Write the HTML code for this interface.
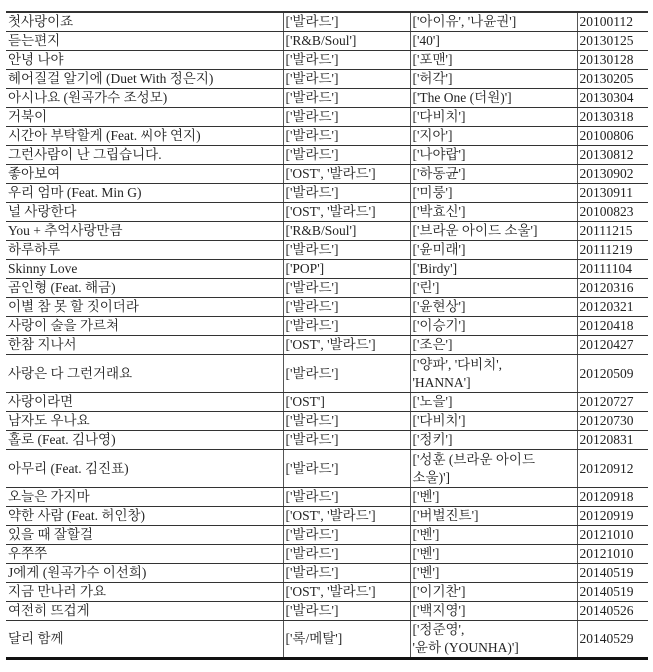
<!DOCTYPE html>
<html><head><meta charset="utf-8"><style>
html,body{margin:0;padding:0;background:#fff;width:653px;height:672px;overflow:hidden}
table{position:absolute;left:6px;top:11px;width:642px;border-collapse:collapse;font-family:"Liberation Serif","Noto Serif CJK KR","Noto Serif CJK SC",serif;font-size:13.5px;color:#222;table-layout:fixed}
tr{height:19px}
tr.d{height:38px}
td{border-top:1px solid #333;border-bottom:1px solid #333;padding:0 2px;white-space:nowrap;line-height:18px;vertical-align:middle;overflow:hidden}
td+td{border-left:1.5px solid #555}
tr:first-child td{border-top:2px solid #333}
tr:last-child td{border-bottom:3px solid #111}
</style></head><body>
<table>
<colgroup><col style="width:277px"><col style="width:127px"><col style="width:167px"><col style="width:71px"></colgroup>
<tbody>
<tr><td>첫사랑이죠</td><td>['발라드']</td><td>['아이유', '나윤권']</td><td>20100112</td></tr>
<tr><td>듣는편지</td><td>['R&amp;B/Soul']</td><td>['40']</td><td>20130125</td></tr>
<tr><td>안녕 나야</td><td>['발라드']</td><td>['포맨']</td><td>20130128</td></tr>
<tr><td>헤어질걸 알기에 (Duet With 정은지)</td><td>['발라드']</td><td>['허각']</td><td>20130205</td></tr>
<tr><td>아시나요 (원곡가수 조성모)</td><td>['발라드']</td><td>['The One (더원)']</td><td>20130304</td></tr>
<tr><td>거북이</td><td>['발라드']</td><td>['다비치']</td><td>20130318</td></tr>
<tr><td>시간아 부탁할게 (Feat. 씨야 연지)</td><td>['발라드']</td><td>['지아']</td><td>20100806</td></tr>
<tr><td>그런사람이 난 그립습니다.</td><td>['발라드']</td><td>['나야랍']</td><td>20130812</td></tr>
<tr><td>좋아보여</td><td>['OST', '발라드']</td><td>['하동균']</td><td>20130902</td></tr>
<tr><td>우리 엄마 (Feat. Min G)</td><td>['발라드']</td><td>['미룽']</td><td>20130911</td></tr>
<tr><td>널 사랑한다</td><td>['OST', '발라드']</td><td>['박효신']</td><td>20100823</td></tr>
<tr><td>You + 추억사랑만큼</td><td>['R&amp;B/Soul']</td><td>['브라운 아이드 소울']</td><td>20111215</td></tr>
<tr><td>하루하루</td><td>['발라드']</td><td>['윤미래']</td><td>20111219</td></tr>
<tr><td>Skinny Love</td><td>['POP']</td><td>['Birdy']</td><td>20111104</td></tr>
<tr><td>곰인형 (Feat. 해금)</td><td>['발라드']</td><td>['린']</td><td>20120316</td></tr>
<tr><td>이별 참 못 할 짓이더라</td><td>['발라드']</td><td>['윤현상']</td><td>20120321</td></tr>
<tr><td>사랑이 술을 가르쳐</td><td>['발라드']</td><td>['이승기']</td><td>20120418</td></tr>
<tr><td>한참 지나서</td><td>['OST', '발라드']</td><td>['조은']</td><td>20120427</td></tr>
<tr class="d"><td>사랑은 다 그런거래요</td><td>['발라드']</td><td>['양파', '다비치',<br>'HANNA']</td><td>20120509</td></tr>
<tr><td>사랑이라면</td><td>['OST']</td><td>['노을']</td><td>20120727</td></tr>
<tr><td>남자도 우나요</td><td>['발라드']</td><td>['다비치']</td><td>20120730</td></tr>
<tr><td>홀로 (Feat. 김나영)</td><td>['발라드']</td><td>['정키']</td><td>20120831</td></tr>
<tr class="d"><td>아무리 (Feat. 김진표)</td><td>['발라드']</td><td>['성훈 (브라운 아이드<br>소울)']</td><td>20120912</td></tr>
<tr><td>오늘은 가지마</td><td>['발라드']</td><td>['벤']</td><td>20120918</td></tr>
<tr><td>약한 사람 (Feat. 허인창)</td><td>['OST', '발라드']</td><td>['버벌진트']</td><td>20120919</td></tr>
<tr><td>있을 때 잘할걸</td><td>['발라드']</td><td>['벤']</td><td>20121010</td></tr>
<tr><td>우쭈쭈</td><td>['발라드']</td><td>['벤']</td><td>20121010</td></tr>
<tr><td>J에게 (원곡가수 이선희)</td><td>['발라드']</td><td>['벤']</td><td>20140519</td></tr>
<tr><td>지금 만나러 가요</td><td>['OST', '발라드']</td><td>['이기찬']</td><td>20140519</td></tr>
<tr><td>여전히 뜨겁게</td><td>['발라드']</td><td>['백지영']</td><td>20140526</td></tr>
<tr class="d"><td>달리 함께</td><td>['록/메탈']</td><td>['정준영',<br>'윤하 (YOUNHA)']</td><td>20140529</td></tr>
</tbody></table>
</body></html>
